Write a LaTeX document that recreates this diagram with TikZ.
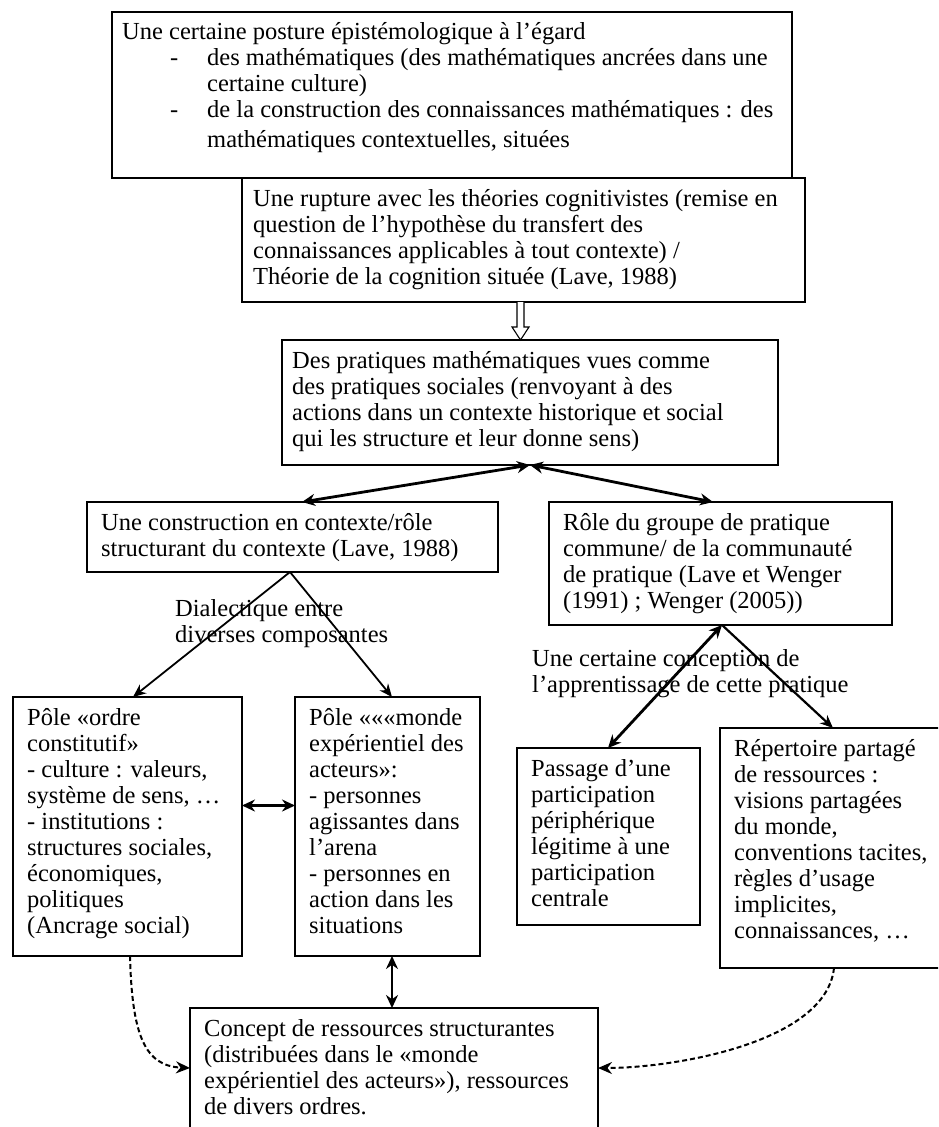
\documentclass[tikz,border=0pt]{standalone}
\usepackage{fontspec}
\setmainfont{Liberation Serif}
\usetikzlibrary{arrows.meta,calc}
\begin{document}
\begin{tikzpicture}[x=1pt,y=-1pt,
  box/.style={draw, line width=1.2pt, anchor=north west, inner sep=0pt, outer sep=0pt},
  txt/.style={anchor=north west, inner sep=0pt, align=left,
    font=\fontsize{24.5}{26}\selectfont},
  intxt/.style={txt, xshift=14pt, yshift=-10pt},
  twoway/.style={line width=2.8pt, {Stealth[length=13pt,width=12pt]}-{Stealth[length=13pt,width=12pt]}},
  oneway/.style={line width=1.8pt, -{Stealth[length=13pt,width=11pt]}},
  dashlink/.style={line width=2pt, dash pattern=on 5pt off 3pt, -{Stealth[length=14pt,width=12pt]}}
]
\useasboundingbox (0,0) rectangle (938,1127);
\clip (0,0) rectangle (938,1127);
\fill[white] (0,0) rectangle (938,1127);

% frames
\node[box, minimum width=680pt, minimum height=166pt] (b1) at (112,12) {};
\node[box, minimum width=563pt, minimum height=124pt] (b2) at (242,178) {};
\node[box, minimum width=496pt, minimum height=125pt] (b3) at (282,340) {};
\node[box, minimum width=411pt, minimum height=70pt]  (b4) at (87,502) {};
\node[box, minimum width=343pt, minimum height=123pt] (b5) at (549,502) {};
\node[box, minimum width=229pt, minimum height=259pt] (b6) at (13,697) {};
\node[box, minimum width=185pt, minimum height=259pt] (b7) at (295,697) {};
\node[box, minimum width=183pt, minimum height=177pt] (b9) at (517,748) {};
\node[box, minimum width=240pt, minimum height=240pt] (b10) at (720,728) {};
\node[box, minimum width=408pt, minimum height=140pt] (b8) at (190,1008) {};

% frame texts
\node[intxt, xshift=-4pt, yshift=1pt] (t1) at (b1.north west) {\strut Une certaine posture épistémologique à l’égard\\
\makebox[85pt][l]{\hspace*{48pt}-}des mathématiques (des mathématiques ancrées dans une\\
\hspace*{85pt}certaine culture)\\
\makebox[85pt][l]{\hspace*{48pt}-}de la construction des connaissances mathématiques : des\\[4pt]
\hspace*{85pt}mathématiques contextuelles, situées};

\node[intxt, xshift=-3pt] (t2) at (b2.north west) {\strut Une rupture avec les théories cognitivistes (remise en\\
question de l’hypothèse du transfert des\\
connaissances applicables à tout contexte) /\\
Théorie de la cognition située (Lave, 1988)};

\node[intxt, xshift=-4pt] (t3) at (b3.north west) {\strut Des pratiques mathématiques vues comme\\
des pratiques sociales (renvoyant à des\\
actions dans un contexte historique et social\\
qui les structure et leur donne sens)};

\node[intxt] (t4) at (b4.north west) {\strut Une construction en contexte/rôle\\
structurant du contexte (Lave, 1988)};

\node[intxt] (t5) at (b5.north west) {\strut Rôle du groupe de pratique\\
commune/ de la communauté\\
de pratique (Lave et Wenger\\
(1991) ; Wenger (2005))};

\node[intxt] (t6) at (b6.north west) {\strut Pôle «ordre\\
constitutif»\\
- culture : valeurs,\\
système de sens, …\\
- institutions :\\
structures sociales,\\
économiques,\\
politiques\\
(Ancrage social)};

\node[intxt] (t7) at (b7.north west) {\strut Pôle «««monde\\
expérientiel des\\
acteurs»:\\
- personnes\\
agissantes dans\\
l’arena\\
- personnes en\\
action dans les\\
situations};

\node[intxt] (t9) at (b9.north west) {\strut Passage d’une\\
participation\\
périphérique\\
légitime à une\\
participation\\
centrale};

\node[intxt] (t10) at (b10.north west) {\strut Répertoire partagé\\
de ressources :\\
visions partagées\\
du monde,\\
conventions tacites,\\
règles d’usage\\
implicites,\\
connaissances, …};

\node[intxt] (t8) at (b8.north west) {\strut Concept de ressources structurantes\\
(distribuées dans le «monde\\
expérientiel des acteurs»), ressources\\
de divers ordres.};

% link labels
\node[txt] (l1) at (175,598) {\strut Dialectique entre\\diverses composantes};
\node[txt] (l2) at (532,648) {\strut Une certaine conception de\\l’apprentissage de cette pratique};

% hollow block arrow between the two upper frames
\coordinate (ia) at ([xshift=-3pt]b2.south);
\coordinate (ib) at (ia |- b3.north);
\draw[line width=1.1pt, fill=white]
  ($(ia)+(-3.5,0)$) -- ($(ib)+(-3.5,-13)$) -- ($(ib)+(-8.5,-13)$) -- (ib)
  -- ($(ib)+(8.5,-13)$) -- ($(ib)+(3.5,-13)$) -- ($(ia)+(3.5,0)$);

% links
\coordinate (b3s) at (b3.south);
\draw[twoway] (b3s) -- ([xshift=215pt]b4.north west);
\draw[twoway] (b3s) -- ([xshift=164pt]b5.north west);

\coordinate (b4s) at ([xshift=203pt]b4.south west);
\draw[oneway] (b4s) -- ([xshift=120pt]b6.north west);
\draw[oneway] (b4s) -- ([xshift=97pt]b7.north west);

\coordinate (b5s) at ([xshift=173pt]b5.south west);
\draw[twoway] (b5s) -- ([xshift=91pt]b9.north west);
\draw[line width=2.2pt, -{Stealth[length=13pt,width=11pt]}] (b5s) -- ([xshift=113pt]b10.north west);

\draw[twoway] ([yshift=21pt]b6.east) -- ([yshift=21pt]b7.west);
\draw[twoway] ([xshift=97pt]b7.south west) -- ([xshift=202pt]b8.north west);

\draw[dashlink] ([xshift=117pt]b6.south west) .. controls +(2,80) and +(-45,-2) .. ([yshift=-60pt]b8.north west);
\draw[dashlink] ([xshift=114pt]b10.south west) .. controls +(-8,75) and +(75,0) .. ([yshift=-60pt]b8.north east);
\end{tikzpicture}
\end{document}
